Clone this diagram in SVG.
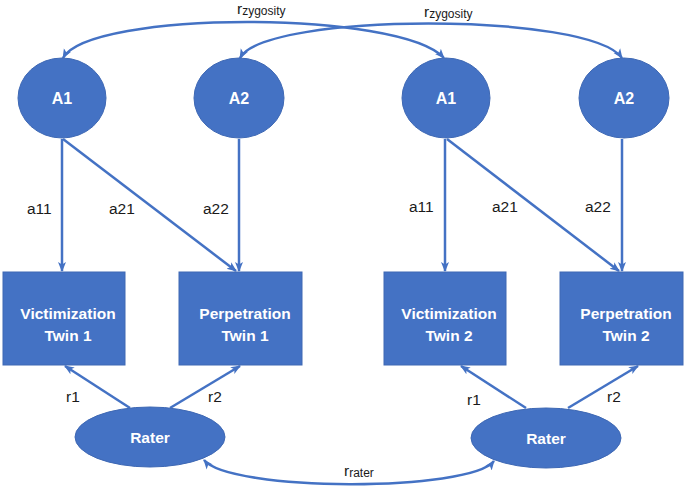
<svg xmlns="http://www.w3.org/2000/svg" width="685" height="489" viewBox="0 0 685 489">
<style>
.node{fill:#4472C4;stroke:#3E68B4;stroke-width:1}
.nt{font-family:"Liberation Sans",Arial,sans-serif;font-weight:bold;fill:#fff;text-anchor:middle}
.lbl{font-family:"Liberation Sans",Arial,sans-serif;fill:#1a1a1a;font-size:15.5px}
.sub{font-family:"Liberation Sans",Arial,sans-serif;fill:#1a1a1a;font-size:12px}
.c{fill:none;stroke:#4472C4;stroke-width:2.5}
</style>
<defs>
<marker id="ah" markerUnits="userSpaceOnUse" markerWidth="10" markerHeight="10" viewBox="0 0 10 10" refX="9" refY="5" orient="auto-start-reverse">
<path d="M0,1 L10,5 L0,9 L2.5,5 Z" fill="#4472C4"/>
</marker>
</defs>
<rect width="685" height="489" fill="#fff"/>
<g id="connectors">
<path class="c" d="M63,58 C90,10 400,10 444,58" marker-start="url(#ah)" marker-end="url(#ah)"/>
<path class="c" d="M240,58 C265,12 590,12 622,58" marker-start="url(#ah)" marker-end="url(#ah)"/>
<path class="c" d="M204,460 C230,492 470,492 494,461" marker-start="url(#ah)" marker-end="url(#ah)"/>
<line class="c" x1="62" y1="139" x2="62" y2="271" marker-end="url(#ah)"/>
<line class="c" x1="63" y1="139" x2="236" y2="271" marker-end="url(#ah)"/>
<line class="c" x1="239" y1="139" x2="239" y2="271" marker-end="url(#ah)"/>
<line class="c" x1="445" y1="139" x2="445" y2="271" marker-end="url(#ah)"/>
<line class="c" x1="447" y1="139" x2="619" y2="271" marker-end="url(#ah)"/>
<line class="c" x1="622" y1="139" x2="622" y2="271" marker-end="url(#ah)"/>
<line class="c" x1="130" y1="408" x2="65" y2="366" marker-end="url(#ah)"/>
<line class="c" x1="170" y1="408" x2="240" y2="366" marker-end="url(#ah)"/>
<line class="c" x1="526" y1="408" x2="461" y2="366" marker-end="url(#ah)"/>
<line class="c" x1="568" y1="408" x2="638" y2="366" marker-end="url(#ah)"/>
<text class="lbl" x="237" y="14" font-size="14">r<tspan class="sub" dy="1">zygosity</tspan></text>
<text class="lbl" x="424" y="17" font-size="14">r<tspan class="sub" dy="1">zygosity</tspan></text>
<text class="lbl" x="344" y="476" font-size="14">r<tspan class="sub" dy="1">rater</tspan></text>
<text class="lbl" x="27" y="214">a11</text>
<text class="lbl" x="109" y="214">a21</text>
<text class="lbl" x="203" y="214">a22</text>
<text class="lbl" x="409" y="212">a11</text>
<text class="lbl" x="492" y="212">a21</text>
<text class="lbl" x="585" y="212">a22</text>
<text class="lbl" x="66" y="402">r1</text>
<text class="lbl" x="208" y="402">r2</text>
<text class="lbl" x="467" y="405">r1</text>
<text class="lbl" x="607" y="402">r2</text>
</g>
<g id="A1_twin1"><ellipse class="node" cx="62" cy="98" rx="44" ry="40"/><text class="nt" x="62" y="104" font-size="16">A1</text></g>
<g id="A2_twin1"><ellipse class="node" cx="239" cy="98" rx="45" ry="40"/><text class="nt" x="239" y="104" font-size="16">A2</text></g>
<g id="A1_twin2"><ellipse class="node" cx="446" cy="98" rx="44" ry="40"/><text class="nt" x="446" y="104" font-size="16">A1</text></g>
<g id="A2_twin2"><ellipse class="node" cx="624" cy="98" rx="45" ry="40"/><text class="nt" x="624" y="104" font-size="16">A2</text></g>
<g id="Vict_twin1"><rect class="node" x="3" y="272" width="122" height="93"/><text class="nt" font-size="15.5"><tspan x="68" y="319">Victimization</tspan><tspan x="68" y="341">Twin 1</tspan></text></g>
<g id="Perp_twin1"><rect class="node" x="179" y="272" width="123" height="93"/><text class="nt" font-size="15.5"><tspan x="245" y="319">Perpetration</tspan><tspan x="245" y="341">Twin 1</tspan></text></g>
<g id="Vict_twin2"><rect class="node" x="384" y="272" width="122" height="93"/><text class="nt" font-size="15.5"><tspan x="449" y="319">Victimization</tspan><tspan x="449" y="341">Twin 2</tspan></text></g>
<g id="Perp_twin2"><rect class="node" x="560" y="272" width="123" height="93"/><text class="nt" font-size="15.5"><tspan x="626" y="319">Perpetration</tspan><tspan x="626" y="341">Twin 2</tspan></text></g>
<g id="Rater1"><ellipse class="node" cx="150" cy="437" rx="75" ry="30"/><text class="nt" x="150" y="443" font-size="15.5">Rater</text></g>
<g id="Rater2"><ellipse class="node" cx="546" cy="438" rx="75" ry="30"/><text class="nt" x="546" y="444" font-size="15.5">Rater</text></g>
</svg>
